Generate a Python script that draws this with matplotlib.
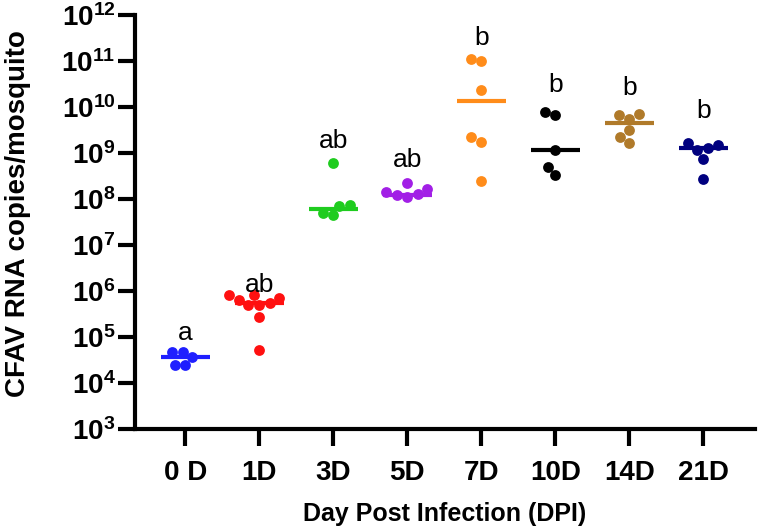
import numpy as np
import matplotlib
matplotlib.use("Agg")
import matplotlib.pyplot as plt

# ---------------- data ----------------
categories = ["0 D", "1D", "3D", "5D", "7D", "10D", "14D", "21D"]
log_values = [
    [4.68, 4.57, 4.39, 4.39, 4.68],
    [5.91, 5.85, 5.74, 5.70, 5.70, 5.80, 5.92, 5.43, 4.72],
    [8.79, 7.87, 7.65, 7.70, 7.85],
    [8.34, 8.22, 8.10, 8.05, 8.08, 8.16],
    [11.01, 11.04, 10.38, 9.25, 9.35, 8.40],
    [9.83, 9.90, 9.07, 8.52, 8.70],
    [9.85, 9.75, 9.83, 9.50, 9.22, 9.35],
    [9.21, 9.10, 8.88, 9.07, 9.17, 8.43],
]
center_log = [4.57, 5.74, 7.78, 8.08, 10.14, 9.07, 9.65, 9.10]
letters = ["a", "ab", "ab", "ab", "b", "b", "b", "b"]
letter_log = [4.93, 5.98, 9.11, 8.70, 11.35, 10.33, 10.26, 9.76]
colors = ["#1f1fff", "#ff1010", "#1fcc1f", "#a21fe6", "#ff8c1a", "#000000", "#b07a2a", "#00007f"]
yticks_exp = list(range(3, 13))

plt.rcParams["font.family"] = ["Liberation Sans", "DejaVu Sans"]
plt.rcParams["mathtext.fontset"] = "custom"
plt.rcParams["mathtext.bf"] = "Liberation Sans:bold"
plt.rcParams["mathtext.rm"] = "Liberation Sans"

fig = plt.figure(figsize=(7.6, 5.31), dpi=100)
ax = fig.add_axes([135 / 760, 1 - 429 / 531, 620 / 760, 414 / 531])
ax.set_yscale("log")
ax.set_ylim(1e3, 1e12)
ax.set_xlim(-0.68, 7.7)

for s in ["top", "right"]:
    ax.spines[s].set_visible(False)
for s in ["left", "bottom"]:
    ax.spines[s].set_linewidth(3)

ax.set_yticks([10.0 ** e for e in yticks_exp])
ax.set_yticklabels([r"$\mathbf{10^{%d}}$" % e for e in yticks_exp])
ax.yaxis.set_minor_locator(matplotlib.ticker.NullLocator())
ax.tick_params(axis="y", length=12, width=3, labelsize=20, pad=2)
ax.set_xticks(range(len(categories)))
ax.set_xticklabels(categories, fontweight="bold", fontsize=20)
ax.tick_params(axis="x", length=12, width=3, pad=10)

ax.set_ylabel("CFAV RNA copies/mosquito", fontsize=20, fontweight="bold")
ax.yaxis.set_label_coords(-0.168, 0.52)
ax.set_xlabel("Day Post Infection (DPI)", fontsize=18, fontweight="bold", labelpad=12)

# ------------- beeswarm placement in pixel space -------------
fig.canvas.draw()
D = 10.8  # marker diameter in pixels
trans = ax.transData
for i, vals in enumerate(log_values):
    yv = np.power(10.0, vals)
    pix = trans.transform(np.column_stack([np.full(len(yv), i), yv]))
    cx = pix[0, 0]
    placed = []
    order = np.argsort(pix[:, 1])
    xs = np.zeros(len(yv))
    for k in order:
        py = pix[k, 1]
        cands = [0.0]
        for (qx, qy) in placed:
            dy = py - qy
            if abs(dy) < D:
                dx = np.sqrt(D * D - dy * dy)
                cands += [qx + dx, qx - dx]
        cands.sort(key=lambda c: (abs(c), c))
        for c in cands:
            if all((c - qx) ** 2 + (py - qy) ** 2 >= D * D - 1e-6 for qx, qy in placed):
                break
        placed.append((c, py))
        xs[k] = cx + c
    data_pts = trans.inverted().transform(np.column_stack([xs, pix[:, 1]]))
    ax.scatter(data_pts[:, 0], yv, s=(D * 0.72) ** 2, color=colors[i], zorder=3, linewidths=0)
    ax.hlines(10.0 ** center_log[i], i - 0.33, i + 0.33, color=colors[i], linewidth=3, zorder=2)
    ax.text(i, 10.0 ** letter_log[i], letters[i], ha="center", va="baseline", fontsize=19)

fig.savefig("out.png", dpi=100)
